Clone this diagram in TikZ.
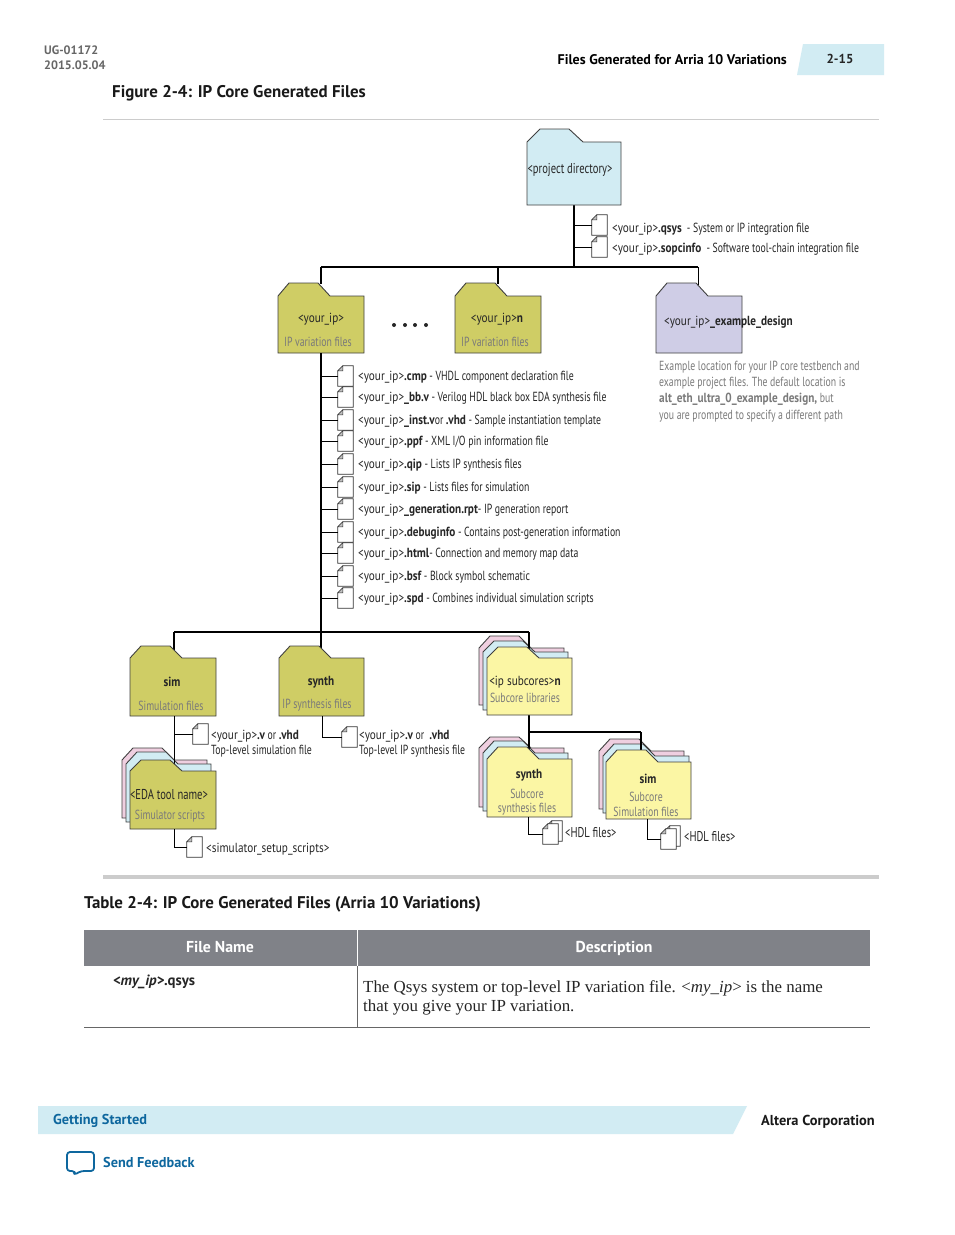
\documentclass[tikz,border=0pt]{standalone}
\usepackage{fontspec}
\setmainfont{PT Sans}
\newfontfamily\cond[FakeStretch=0.74]{PT Sans}
\newfontfamily\condb[FakeStretch=0.85]{PT Sans}
\newfontfamily\serifr{Liberation Serif}
\usetikzlibrary{calc}
\definecolor{olive}{HTML}{CFCD65}
\definecolor{cy}{HTML}{D2ECF3}
\definecolor{purp}{HTML}{CFCDE6}
\definecolor{yel}{HTML}{FBF6A4}
\definecolor{pnk}{HTML}{EFCFE0}
\definecolor{altblue}{HTML}{0E679E}
\definecolor{hdr}{HTML}{808288}
\definecolor{capt}{HTML}{7A7A7A}
\tikzset{
 lab/.style={anchor=west,inner sep=0pt,yshift=-0.8pt,font=\cond\fontsize{13.2}{14}\selectfont,text=black!85},
 clab/.style={anchor=center,inner sep=0pt,yshift=-0.8pt,align=center,font=\cond\fontsize{13.2}{14}\selectfont,text=black!85},
 captlab/.style={clab,text=capt},
 wire/.style={draw=black,line width=1pt},
 trunk/.style={draw=black,line width=2pt},
 foldline/.style={draw=black!75,line width=0.9pt,line join=miter},
 fileic/.style={inner sep=0pt,minimum width=15pt,minimum height=20pt},
 title/.style={anchor=west,inner sep=0pt,font=\bfseries\fontsize{16.9}{18}\selectfont,text=black!90},
 foot/.style={anchor=west,inner sep=0pt,font=\bfseries\fontsize{14.3}{16}\selectfont,text=altblue},
 thead/.style={inner sep=0pt,text=white,font=\bfseries\fontsize{15.8}{17}\selectfont},
 dotmark/.style={circle,fill=black!85,inner sep=0pt,minimum size=4pt},
}
\newcommand{\yi}{{\condb <your\_ip>}}
\newcommand{\bt}[1]{{\condb\bfseries #1}}
% name, l, t, r, b, bodytop, fill
\newcommand{\folder}[7]{%
 \path[foldline,fill=#7] (#2,#6) -- (#2+11,#3) -- (#2+40,#3) -- (#2+52,#6) -- (#4,#6) -- (#4,#5) -- (#2,#5) -- cycle;
 \coordinate (#1) at (#2,#6);}
% name, x-left, y-top
\newcommand{\fileicon}[3]{%
 \node[fileic] (#1) at (#2+7.5,#3+10) {};
 \path[draw=black!80,fill=white,line width=0.8pt] (#1.south west) -- (#1.south east) -- (#1.north east) -- ($(#1.north west)+(5,0)$) -- ($(#1.north west)+(0,5)$) -- cycle;
 \path[draw=black!80,fill=black!25,line width=0.5pt] ($(#1.north west)+(5,0)$) -- ($(#1.north west)+(5,5)$) -- ($(#1.north west)+(0,5)$) -- cycle;}
\newcommand{\filerow}[3]{%
 \fileicon{#1}{338}{#2-10}
 \draw[wire] (#1.west -| vtrunk) -- (#1.west);
 \node[lab] (#1t) at (358,#2) {#3};}
\begin{document}
\begin{tikzpicture}[x=1pt,y=-1pt]
\useasboundingbox (0,0) rectangle (954,1235);
\fill[white] (0,0) rectangle (954,1235);
% page header
\node[anchor=west,inner sep=0pt,font=\bfseries\fontsize{12.2}{14}\selectfont,text=black!60] (ug) at (44,50) {UG-01172};
\node[anchor=west,inner sep=0pt,font=\bfseries\fontsize{12.2}{14}\selectfont,text=black!60] (dt) at (44,65) {2015.05.04};
\node[anchor=east,inner sep=0pt,font=\bfseries\fontsize{14}{16}\selectfont] (sec) at (787,60) {Files Generated for Arria 10 Variations};
\fill[cy] (803,44) -- (884,44) -- (884,75) -- (797,75) -- cycle;
\node[inner sep=0pt,font=\bfseries\fontsize{13}{15}\selectfont,text=black!85] (pg) at (840,59) {2-15};
\node[title] (fig) at (112,93) {Figure 2-4: IP Core Generated Files};
\draw[black!20,line width=1pt] (103,119) -- (879,119);
% upper trunk
\coordinate (top) at (574,205);
\coordinate (bar) at (574,267);
\coordinate (barL) at (321,267);
\coordinate (barM) at (498,267);
\coordinate (barR) at (698,267);
\draw[trunk] (top) -- (bar);
\draw[trunk] (barL) -- (barR);
\draw[trunk] (barL) -- (321,284);
\draw[trunk] (barM) -- (498,284);
\draw[wire] (barR) -- (698,285);
% project folder
\path[foldline,fill=cy] (527,142) -- (540,129) -- (569,129) -- (583,142) -- (621,142) -- (621,205) -- (527,205) -- cycle;
\node[clab,font=\cond\fontsize{14.3}{15}\selectfont] (pd) at (570,169) {<project directory>};
\fileicon{qs}{592}{215}
\fileicon{so}{592}{237}
\draw[wire] (qs.west -| top) -- (qs.west);
\draw[wire] (so.west -| top) -- (so.west);
\node[lab] (qst) at (612,228) {\yi\bt{.qsys}\ \ - System or IP integration file};
\node[lab] (sot) at (612,248) {\yi\bt{.sopcinfo}\ \ - Software tool-chain integration file};
% variation folders
\folder{f1}{278}{283}{364}{353}{296}{olive}
\folder{f2}{455}{283}{541}{353}{296}{olive}
\folder{f3}{656}{283}{742}{353}{296}{purp}
\node[clab] (f1a) at (321,318) {\yi};
\node[captlab] (f1b) at (318,341) {IP variation files};
\node[clab] (f2a) at (497,318) {\yi\bt{n}};
\node[captlab] (f2b) at (495,341) {IP variation files};
\node[lab] (f3a) at (664,321) {\yi\bt{\_example\_design}};
\node[dotmark] (dt1) at (394,325) {};
\node[dotmark] (dt2) at (405,325) {};
\node[dotmark] (dt3) at (415,325) {};
\node[dotmark] (dt4) at (426,325) {};
\node[lab,text=capt] (d1) at (659,366) {Example location for your IP core testbench and};
\node[lab,text=capt] (d2) at (659,382) {example project files. The default location is};
\node[lab,text=capt] (d3) at (659,398) {\bt{alt\_eth\_ultra\_0\_example\_design,} but};
\node[lab,text=capt] (d4) at (659,415) {you are prompted to specify a different path};
% file list
\coordinate (vtrunk) at (321,353);
\coordinate (hbar) at (321,632);
\draw[trunk] (vtrunk) -- (hbar);
\filerow{r1}{376}{\yi\bt{.cmp}\ - VHDL component declaration file}
\filerow{r2}{397}{\yi\bt{\_bb.v} - Verilog HDL black box EDA synthesis file}
\filerow{r3}{420}{\yi\bt{\_inst.v}or\ \bt{.vhd}\ - Sample instantiation template}
\filerow{r4}{441}{\yi\bt{.ppf} - XML I/O pin information file}
\filerow{r5}{464}{\yi\bt{.qip}\ - Lists IP synthesis files}
\filerow{r6}{487}{\yi\bt{.sip}\ - Lists files for simulation}
\filerow{r7}{509}{\yi\bt{\_generation.rpt}- IP generation report}
\filerow{r8}{532}{\yi\bt{.debuginfo}\ - Contains post-generation information}
\filerow{r9}{553}{\yi\bt{.html}- Connection and memory map data}
\filerow{r10}{576}{\yi\bt{.bsf}\ - Block symbol schematic}
\filerow{r11}{598}{\yi\bt{.spd}\ - Combines individual simulation scripts}
% lower bar
\coordinate (hL) at (174,632);
\coordinate (hR) at (529,632);
\draw[trunk] (hL) -- (hR);
\draw[trunk] (hL) -- (174,659);
\draw[trunk] (hbar) -- (321,659);
% sim folder
\folder{sm}{130}{646}{216}{716}{658}{olive}
\node[clab] (sma) at (172,681) {\bt{sim}};
\node[captlab] (smb) at (171,705) {Simulation files};
% synth folder
\folder{sy}{279}{646}{364}{716}{658}{olive}
\node[clab] (sya) at (321,681) {\bt{synth}};
\node[captlab] (syb) at (317,704) {IP synthesis files};
\coordinate (syo) at (322,716);
\fileicon{syf}{342}{727}
\draw[wire] (syo) |- (syf.west);
\node[lab] (syt1) at (359,735) {\yi\bt{.v} or\ \ \bt{.vhd}};
\node[lab] (syt2) at (359,750) {Top-level IP synthesis file};
% EDA stack
\folder{ep}{122}{748}{207}{818}{760}{pnk}
\folder{ec}{126}{752}{211}{822}{764}{cy}
\coordinate (smo) at (174,716);
\coordinate (sme) at (174,768);
\fileicon{smf}{193}{724}
\draw[wire] (smo) -- (sme);
\draw[wire] (smf.west -| smo) -- (smf.west);
\folder{ef}{130}{760}{216}{829}{771}{olive}
\node[lab] (smt1) at (211,735) {\yi\bt{.v} or \bt{.vhd}};
\node[lab] (smt2) at (211,750) {Top-level simulation file};
\node[clab,font=\cond\fontsize{14.3}{15}\selectfont] (efa) at (169,794) {<EDA tool name>};
\node[captlab] (efb) at (170,815) {Simulator scripts};
\coordinate (efo) at (174,829);
\fileicon{eff}{187}{837}
\draw[wire] (efo) |- (eff.west);
\node[lab] (eft) at (206,848) {{\condb <simulator\_setup\_scripts>}};
% ip subcores
\folder{ipp}{479}{636}{564}{705}{648}{pnk}
\folder{ipc}{483}{641}{568}{710}{652}{cy}
\draw[trunk] (hR) -- (529,650);
\coordinate (ipo) at (529,715);
\coordinate (ipb) at (529,732);
\coordinate (ipr) at (641,732);
\folder{ss1}{479}{737}{564}{807}{748}{pnk}
\folder{ss2}{483}{741}{568}{811}{753}{cy}
\draw[wire,line width=1.2pt] (ipo) -- (529,750);
\draw[wire,line width=1.2pt] (ipb) -- (ipr);
\folder{ipf}{487}{647}{572}{715}{658}{yel}
\node[clab] (ipa) at (525,681) {{\condb <ip subcores>}\bt{n}};
\node[captlab] (ipb2) at (525,697) {Subcore libraries};
% synth subcore
\folder{ss3}{487}{747}{572}{817}{759}{yel}
\node[clab] (ssa) at (529,774) {\bt{synth}};
\node[captlab] (ssb) at (527,793) {Subcore};
\node[captlab] (ssc) at (527,808) {synthesis files};
% sim subcore
\folder{si1}{599}{739}{684}{809}{751}{pnk}
\folder{si2}{603}{744}{689}{813}{756}{cy}
\draw[wire,line width=1.2pt] (ipr) -- (641,750);
\folder{si3}{606}{750}{691}{819}{762}{yel}
\node[clab] (sia) at (648,778) {\bt{sim}};
\node[captlab] (sib) at (646,796) {Subcore};
\node[captlab] (sic) at (646,811) {Simulation files};
% HDL files
\coordinate (sso) at (528,817);
\fileicon{hb1}{547}{821}
\fileicon{hf1}{543}{824}
\draw[wire] (sso) |- (hf1.west);
\node[lab,font=\cond\fontsize{14.2}{15}\selectfont] (ht1) at (565,832) {<HDL files>};
\coordinate (sio) at (647,819);
\fileicon{hb2}{665}{826}
\fileicon{hf2}{661}{829}
\draw[wire] (sio) |- (hf2.west);
\node[lab,font=\cond\fontsize{14.2}{15}\selectfont] (ht2) at (684,836) {<HDL files>};
% rule
\fill[black!20] (103,875) rectangle (879,879);
% table
\node[title] (tt) at (84,904) {Table 2-4: IP Core Generated Files (Arria 10 Variations)};
\fill[hdr] (84,930) rectangle (357,966);
\fill[hdr] (358,930) rectangle (870,966);
\node[thead,anchor=base] (th1) at (220,952) {File Name};
\node[thead,anchor=base] (th2) at (614,952) {Description};
\draw[black!60,line width=0.8pt] (357.5,966) -- (357.5,1027);
\draw[black!60,line width=0.8pt] (84,1027.5) -- (870,1027.5);
\node[anchor=west,inner sep=0pt,font=\fontsize{14.8}{16}\selectfont\bfseries,text=black!85] (c1) at (113,982) {\textit{<my\_ip>}.qsys};
\node[anchor=base west,inner sep=0pt,font=\serifr\fontsize{16.9}{19}\selectfont,text=black!85] (c2) at (363,992) {The Qsys system or top-level IP variation file. <\textit{my\_ip}> is the name};
\node[anchor=base west,inner sep=0pt,font=\serifr\fontsize{16.9}{19}\selectfont,text=black!85] (c3) at (363,1011) {that you give your IP variation.};
% footer
\fill[cy] (38,1106) -- (747,1106) -- (733,1134) -- (38,1134) -- cycle;
\node[foot] (gs) at (53,1121) {Getting Started};
\node[anchor=west,inner sep=0pt,font=\bfseries\fontsize{14.4}{16}\selectfont,text=black!90] (ac) at (761,1122) {Altera Corporation};
\path[draw=altblue,line width=1.8pt,rounded corners=3pt,line join=round] (67,1152) -- (94,1152) -- (94,1171) -- (81,1171) -- (74,1175) -- (75,1171) -- (67,1171) -- cycle;
\node[foot] (sf) at (103,1162) {Send Feedback};
\end{tikzpicture}
\end{document}
